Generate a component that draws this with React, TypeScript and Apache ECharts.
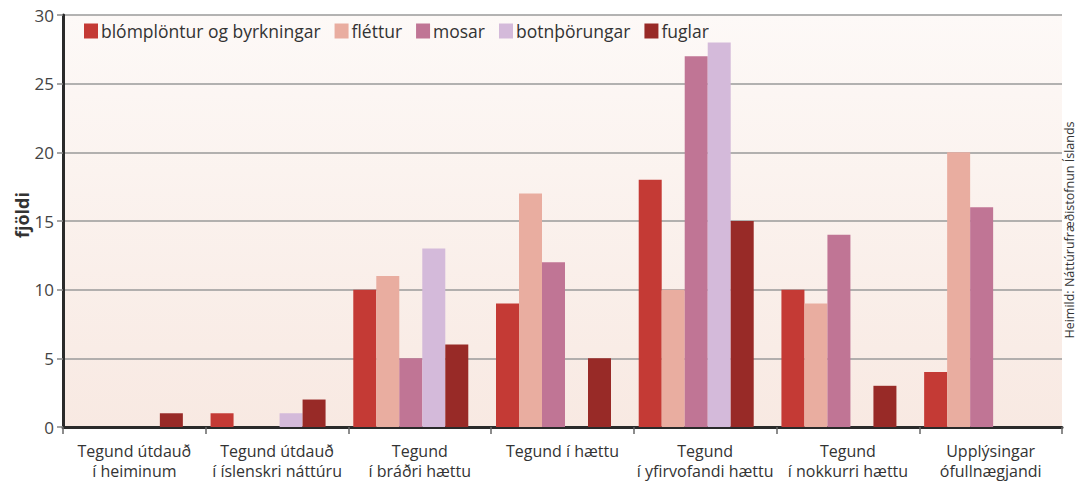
import React, { useEffect, useRef } from "react";
import * as echarts from "echarts";

const categories = [
  "Tegund útdauð\ní heiminum",
  "Tegund útdauð\ní íslenskri náttúru",
  "Tegund\ní bráðri hættu",
  "Tegund í hættu",
  "Tegund\ní yfirvofandi hættu",
  "Tegund\ní nokkurri hættu",
  "Upplýsingar\nófullnægjandi",
];

const seriesNames = ["blómplöntur og byrkningar", "fléttur", "mosar", "botnþörungar", "fuglar"];
const blomplontur = [0, 1, 10, 9, 18, 10, 4];
const flettur = [0, 0, 11, 17, 10, 9, 20];
const mosar = [0, 0, 5, 12, 27, 14, 16];
const botnthorungar = [0, 1, 13, 0, 28, 0, 0];
const fuglar = [1, 2, 6, 5, 15, 3, 0];
const colors = ["#c43a35", "#e9ada0", "#c07595", "#d4bada", "#982a27"];
const yTicks = [0, 5, 10, 15, 20, 25, 30];

const FONT = "'Open Sans', 'Noto Sans', sans-serif";

export default function App() {
  const ref = useRef<HTMLDivElement>(null);
  useEffect(() => {
    if (!ref.current) return;
    const chart = echarts.init(ref.current, undefined, { renderer: "svg" });
    const data = [blomplontur, flettur, mosar, botnthorungar, fuglar];
    const series: any[] = seriesNames.map((name, i) => ({
      name,
      type: "bar",
      data: data[i].map((v) => (v === 0 ? null : v)),
      barWidth: 23,
      barGap: "0%",
      itemStyle: { color: colors[i] },
    }));
    // empty spacer slot after the five series (no marks drawn)
    series.push({
      name: "spacer",
      type: "bar",
      data: categories.map(() => null),
      barWidth: 18,
      barGap: "0%",
      silent: true,
      itemStyle: { color: "transparent" },
    });
    chart.setOption({
      animation: false,
      backgroundColor: "#ffffff",
      textStyle: { fontFamily: FONT },
      legend: {
        left: 79,
        top: 17,
        itemWidth: 14,
        itemHeight: 15,
        itemGap: 14,
        icon: "rect",
        textStyle: { fontSize: 17.5, color: "#333", fontFamily: FONT, padding: [0, 0, 0, -2] },
        data: seriesNames,
      },
      grid: {
        left: 63,
        right: 15,
        top: 15,
        bottom: 58,
        show: true,
        borderWidth: 0,
        backgroundColor: {
          type: "linear",
          x: 0,
          y: 0,
          x2: 0,
          y2: 1,
          colorStops: [
            { offset: 0, color: "#fdf9f7" },
            { offset: 1, color: "#f8e9e2" },
          ],
        },
      },
      xAxis: {
        type: "category",
        data: categories,
        axisLine: { show: true, lineStyle: { color: "#2a2a2a", width: 3 } },
        axisTick: { show: true, length: 7, lineStyle: { color: "#666", width: 1.5 } },
        axisLabel: {
          fontSize: 16,
          color: "#333",
          lineHeight: 20,
          margin: 14,
          interval: 0,
          fontFamily: FONT,
        },
      },
      yAxis: {
        type: "value",
        min: 0,
        max: 30,
        interval: 5,
        axisLine: { show: true, lineStyle: { color: "#2a2a2a", width: 3 } },
        axisTick: { show: true, length: 6, lineStyle: { color: "#888", width: 1.5 } },
        axisLabel: {
          fontSize: 17,
          color: "#444",
          margin: 9,
          fontFamily: FONT,
          formatter: (v: number) => (yTicks.includes(v) ? String(v) : ""),
        },
        splitLine: { show: true, lineStyle: { color: "#9a9a9a", width: 1.5 } },
      },
      graphic: [
        {
          type: "text",
          x: 22,
          y: 215,
          rotation: Math.PI / 2,
          style: {
            text: "fjöldi",
            fontSize: 18,
            fontWeight: "bold",
            fill: "#333",
            fontFamily: FONT,
            align: "center",
            verticalAlign: "middle",
          },
        },
        {
          type: "text",
          x: 1069,
          y: 230,
          rotation: Math.PI / 2,
          style: {
            text: "Heimild: Náttúrufræðistofnun Íslands",
            fontSize: 12.5,
            fill: "#333",
            fontFamily: FONT,
            align: "center",
            verticalAlign: "middle",
          },
        },
      ],
      series,
    });
    return () => chart.dispose();
  }, []);
  return (
    <div
      ref={ref}
      style={{ position: "fixed", left: 0, top: 0, width: 1077, height: 485 }}
    />
  );
}
